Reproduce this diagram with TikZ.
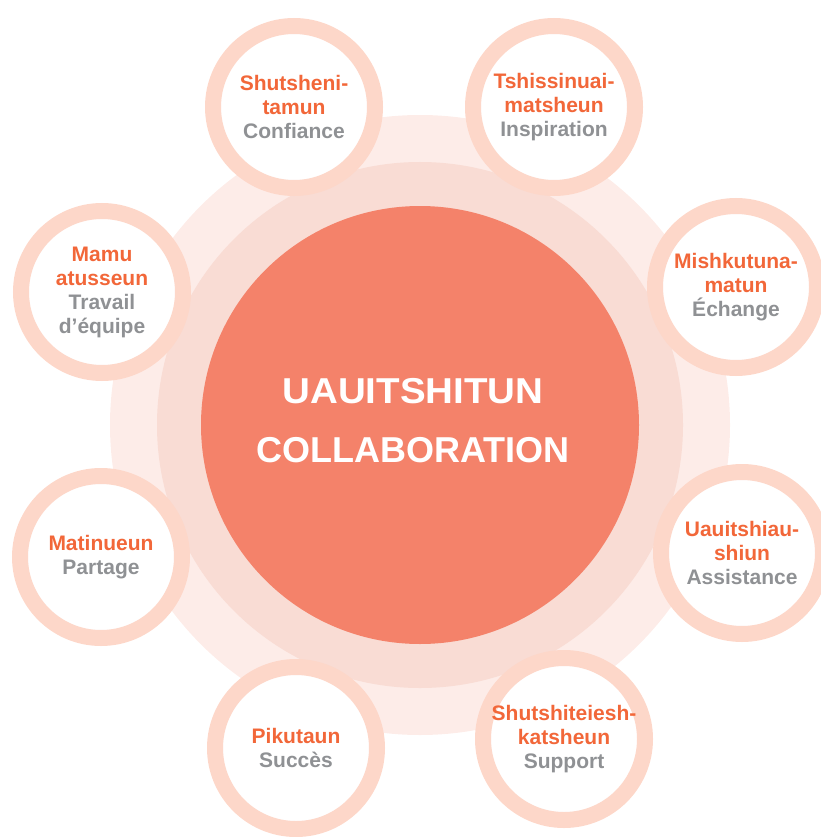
\documentclass[tikz,border=0pt]{standalone}
\usepackage{fontspec}
\setmainfont{Liberation Sans}
\definecolor{ringc}{HTML}{FDD7C9}
\definecolor{outerc}{HTML}{FDECE8}
\definecolor{midc}{HTML}{F9DCD4}
\definecolor{darkc}{HTML}{F4826A}
\definecolor{orangec}{HTML}{F26739}
\definecolor{greyc}{HTML}{8F9194}
\newcommand{\labO}[1]{\textcolor{orangec}{#1}}
\newcommand{\labG}[1]{\textcolor{greyc}{#1}}
\begin{document}
\begin{tikzpicture}[x=1pt,y=-1pt,
  bigc/.style={circle, inner sep=0pt, draw=none},
  smallc/.style={circle, draw=ringc, line width=16pt, fill=white,
    minimum size=162pt, inner sep=0pt, align=center,
    font=\bfseries\fontsize{21}{24}\selectfont},
  centertext/.style={align=center, text=white,
    font=\bfseries\fontsize{36}{59}\selectfont}]
\useasboundingbox (0,0) rectangle (820,837);
\node[bigc, fill=outerc, minimum size=620pt] (outer) at (420,425) {};
\node[bigc, fill=midc, minimum size=526pt] (mid) at (420,425) {};
\node[bigc, fill=darkc, minimum size=438pt] (core) at (420,425) {};
\node[centertext] (title) at (413,421) {\scalebox{1.07}[1]{UAUITSHITUN}\\COLLABORATION};
\node[smallc] (c1) at (294,107) {\labO{Shutsheni-}\\\labO{tamun}\\\labG{Confiance}};
\node[smallc] (c2) at (554,107) {\labO{Tshissinuai-}\\\labO{matsheun}\\\labG{Inspiration}};
\node[smallc] (c3) at (102,292) {\labO{Mamu}\\\labO{atusseun}\\\labG{Travail}\\\labG{d’équipe}};
\node[smallc] (c4) at (736,287) {\labO{Mishkutuna-}\\\labO{matun}\\\labG{Échange}};
\node[smallc] (c5) at (101,557) {\labO{Matinueun}\\\labG{Partage}};
\node[smallc] (c6) at (742,553) {\labO{Uauitshiau-}\\\labO{shiun}\\\labG{Assistance}};
\node[smallc] (c7) at (296,748) {\labO{Pikutaun}\\\labG{Succès}};
\node[smallc] (c8) at (564,739) {\labO{Shutshiteiesh-}\\\labO{katsheun}\\\labG{Support}};
\end{tikzpicture}
\end{document}
